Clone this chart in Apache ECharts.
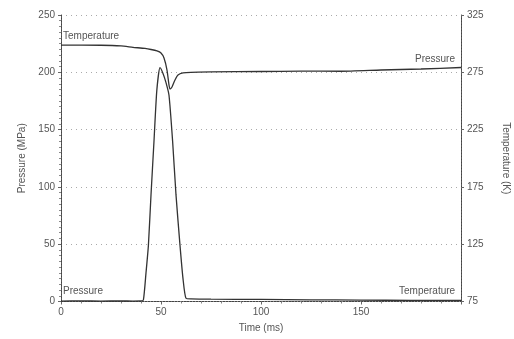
<!DOCTYPE html>
<html><head><meta charset="utf-8">
<script src="https://cdn.jsdelivr.net/npm/echarts@6/dist/echarts.min.js"></script>
<style>html,body{margin:0;padding:0;background:#fff}#c{width:514px;height:339px}</style>
</head><body><div id="c"></div>
<script>
var timeMs = [0,10,20,30,36,40,41.2,42.5,43.7,45,46.5,47.9,49.5,51,52.5,54,55.8,57.5,59.5,61,62.5,65,75,100,125,150,175,200];
var pressure = [0.4,0.5,0.4,0.5,0.4,0.5,1.3,25,49,93,140,184,204,199,191,180,140,93,49,20,2.8,2.3,2,1.8,1.5,1.2,1,0.9];
var tTime = [0,20,30,36,42,45,48,50,51.5,53,54,54.5,55.5,57,58.5,61,65,75,100,120,140,160,180,200];
var temperature = [298.8,298.6,298,296.8,295.8,294.9,293.6,291.8,287.5,277,263.9,260.4,262.2,268.3,272.6,274.4,275,275.3,275.7,276,275.9,277,277.9,279.2];
var leftTicks = [0,50,100,150,200,250];
var rightTicks = [75,125,175,225,275,325];

var pData = timeMs.map(function(t,i){return [t,pressure[i]];});
var tData = tTime.map(function(t,i){return [t,temperature[i]];});
var txt = {color:'#555', fontFamily:'Liberation Sans, Arial', fontSize:10};
var chart = echarts.init(document.getElementById('c'));
chart.setOption({
  animation:false,
  grid:{left:61,right:53,top:15,bottom:37.5,containLabel:false,outerBoundsMode:'none'},
  xAxis:{type:'value',min:0,max:200,interval:50,
    name:'Time (ms)',nameLocation:'middle',nameGap:22,
    nameTextStyle:Object.assign({},txt),
    axisLine:{show:true,lineStyle:{color:'#444',type:[2,1],width:1}},
    axisTick:{show:true,length:3,inside:false,lineStyle:{color:'#666'}},
    minorTick:{show:true,splitNumber:5,length:2,lineStyle:{color:'#888'}},
    axisLabel:Object.assign({showMaxLabel:false,margin:6},txt),
    splitLine:{show:false}},
  yAxis:[{type:'value',min:0,max:250,interval:50,position:'left',
    name:'Pressure (MPa)',nameLocation:'middle',nameGap:33,nameRotate:90,
    nameTextStyle:Object.assign({},txt),
    axisLine:{show:true,lineStyle:{color:'#444',type:[2,1],width:1}},
    axisTick:{show:true,length:3,lineStyle:{color:'#666'}},
    minorTick:{show:true,splitNumber:10,length:2,lineStyle:{color:'#888'}},
    axisLabel:Object.assign({margin:6},txt),
    splitLine:{show:true,lineStyle:{color:'#aaa',type:[1,4],width:1}}},
   {type:'value',min:75,max:325,position:'right',
    name:'Temperature (K)',nameLocation:'middle',nameGap:40,nameRotate:-90,
    nameTextStyle:Object.assign({},txt),
    axisLine:{show:true,lineStyle:{color:'#444',type:[2,1],width:1}},
    axisTick:{show:true,length:3,customValues:rightTicks,lineStyle:{color:'#666'}},
    axisLabel:Object.assign({margin:6,customValues:rightTicks},txt),
    splitLine:{show:false}}],
  graphic:[
    {type:'text',left:63,top:31,style:{text:'Temperature',fill:'#555',font:'10px Liberation Sans, Arial'}},
    {type:'text',left:415,top:54,style:{text:'Pressure',fill:'#555',font:'10px Liberation Sans, Arial'}},
    {type:'text',left:63,top:286,style:{text:'Pressure',fill:'#555',font:'10px Liberation Sans, Arial'}},
    {type:'text',left:399,top:286,style:{text:'Temperature',fill:'#555',font:'10px Liberation Sans, Arial'}}
  ],
  series:[
    {type:'line',name:'Pressure',yAxisIndex:0,data:pData,showSymbol:false,smooth:0.2,
      lineStyle:{color:'#333',width:1.3}},
    {type:'line',name:'Temperature',yAxisIndex:1,data:tData,showSymbol:false,smooth:0.2,
      lineStyle:{color:'#333',width:1.3}}
  ]
});
</script></body></html>
